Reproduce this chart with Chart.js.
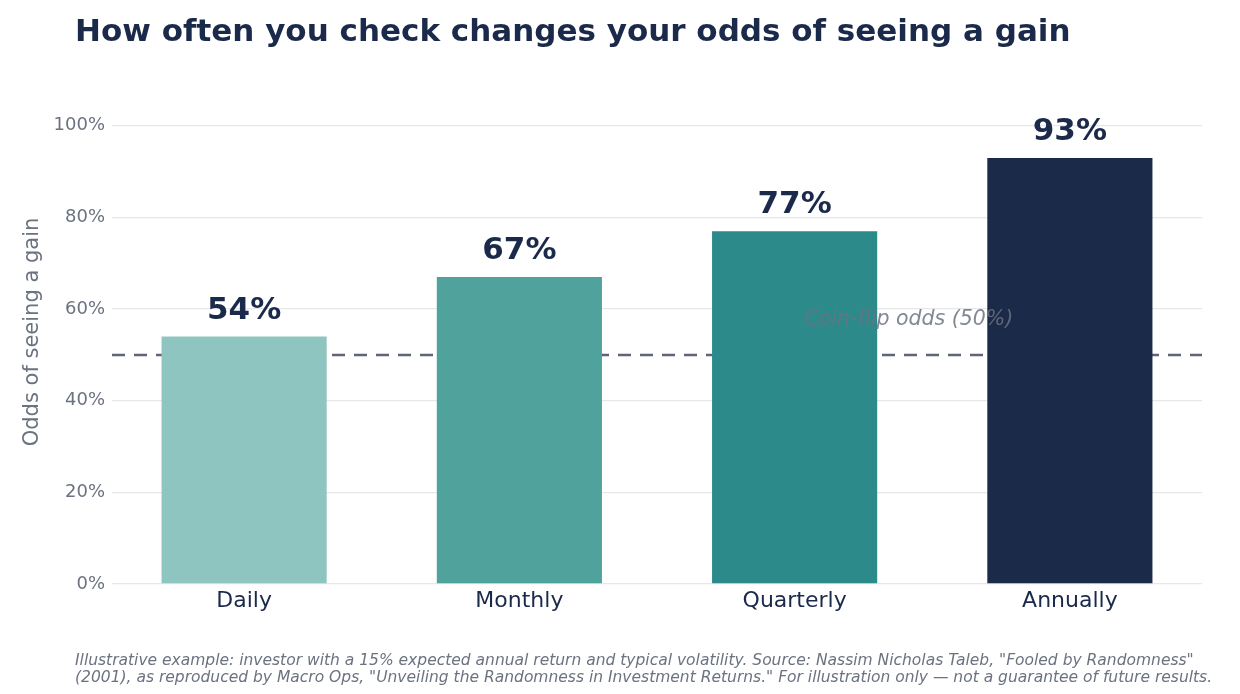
<!DOCTYPE html>
<html>
<head>
<meta charset="utf-8">
<script src="https://cdn.jsdelivr.net/npm/chart.js@4"></script>
<style>
  body { margin: 0; background: #fff; }
  #wrap { position: relative; width: 1240px; height: 694px; }
  #chart { position: absolute; left: 0; top: 0; }
  .titulo {
    position: absolute; left: 75px; top: 12px; margin: 0;
    font: bold 31px "DejaVu Sans"; color: #1b2a4a; white-space: nowrap;
  }
  .nota {
    position: absolute; left: 75px; top: 652px; margin: 0;
    font: italic 15.5px/16.5px "DejaVu Sans"; color: #6b7280; white-space: nowrap;
  }
</style>
</head>
<body>
<div id="wrap">
  <canvas id="chart" width="1240" height="694"></canvas>
  <p class="titulo">How often you check changes your odds of seeing a gain</p>
  <p class="nota">Illustrative example: investor with a 15% expected annual return and typical volatility. Source: Nassim Nicholas Taleb, "Fooled by Randomness"<br>(2001), as reproduced by Macro Ops, "Unveiling the Randomness in Investment Returns." For illustration only — not a guarantee of future results.</p>
</div>
<script>
// datos
const categorias = ["Daily", "Monthly", "Quarterly", "Annually"];
const valores = [54, 67, 77, 93];
const colores = ["#8fc5c0", "#4fa39c", "#2d8a8a", "#1c2a49"];
const ticksY = [0, 20, 40, 60, 80, 100];
const lineaMoneda = 50;
const textoMoneda = "Coin-flip odds (50%)";

const puntos = valores.map((v, i) => ({ x: i, y: v }));

// linea punteada detras de las barras + texto encima
const pluginMoneda = {
  id: "moneda",
  beforeDatasetsDraw(chart) {
    const ctx = chart.ctx;
    const area = chart.chartArea;
    const y = chart.scales.y.getPixelForValue(lineaMoneda);
    ctx.save();
    ctx.strokeStyle = "#5f6577";
    ctx.lineWidth = 2.5;
    ctx.setLineDash([13, 9]);
    ctx.beginPath();
    ctx.moveTo(area.left, y);
    ctx.lineTo(area.right, y);
    ctx.stroke();
    ctx.restore();
  },
  afterDatasetsDraw(chart) {
    const ctx = chart.ctx;
    const meta = chart.getDatasetMeta(0);
    ctx.save();
    // etiquetas de valor
    ctx.fillStyle = "#1b2a4a";
    ctx.font = "bold 31px 'DejaVu Sans'";
    ctx.textAlign = "center";
    ctx.textBaseline = "alphabetic";
    meta.data.forEach((bar, i) => {
      ctx.fillText(valores[i] + "%", bar.x, bar.y - 18);
    });
    // texto de la linea
    const x = chart.scales.x.getPixelForValue(2.036);
    const y = chart.scales.y.getPixelForValue(lineaMoneda);
    ctx.globalAlpha = 0.85;
    ctx.fillStyle = "#6b7280";
    ctx.font = "italic 20.5px 'DejaVu Sans'";
    ctx.textAlign = "left";
    ctx.textBaseline = "middle";
    ctx.fillText(textoMoneda, x, y - 35);
    ctx.restore();
  }
};

const canvas = document.getElementById("chart").getContext("2d");

const chart = new Chart(canvas, {
  type: "bar",
  data: {
    datasets: [{
      data: puntos,
      backgroundColor: colores,
      borderWidth: 0,
      barPercentage: 0.6,
      categoryPercentage: 1
    }]
  },
  options: {
    responsive: false,
    animation: false,
    layout: { padding: { left: 0, right: 38, top: 80, bottom: 0 } },
    plugins: {
      legend: { display: false },
      tooltip: { enabled: false }
    },
    scales: {
      x: {
        type: "linear",
        offset: false,
        min: -0.48,
        max: 3.48,
        grid: { display: false, offset: false },
        border: { display: false },
        afterFit: (s) => { s.height = 110; },
        afterBuildTicks: (s) => { s.ticks = categorias.map((c, i) => ({ value: i })); },
        ticks: {
          padding: -4,
          color: "#1b2a4a",
          font: { family: "DejaVu Sans", size: 22 },
          callback: (v) => categorias[v] ?? ""
        }
      },
      y: {
        min: 0,
        max: 110,
        afterFit: (s) => { s.width = 112; },
        afterBuildTicks: (s) => { s.ticks = ticksY.map(v => ({ value: v })); },
        grid: { color: "#e5e7eb", lineWidth: 1.3, drawTicks: false },
        border: { display: false },
        ticks: {
          padding: 7,
          color: "#6b7280",
          font: { family: "DejaVu Sans", size: 18 },
          callback: (v) => v + "%"
        },
        title: {
          display: true,
          text: "Odds of seeing a gain",
          color: "#6b7280",
          font: { family: "DejaVu Sans", size: 21 },
          padding: { top: 20, bottom: 0 }
        }
      }
    }
  },
  plugins: [pluginMoneda]
});
</script>
</body>
</html>
